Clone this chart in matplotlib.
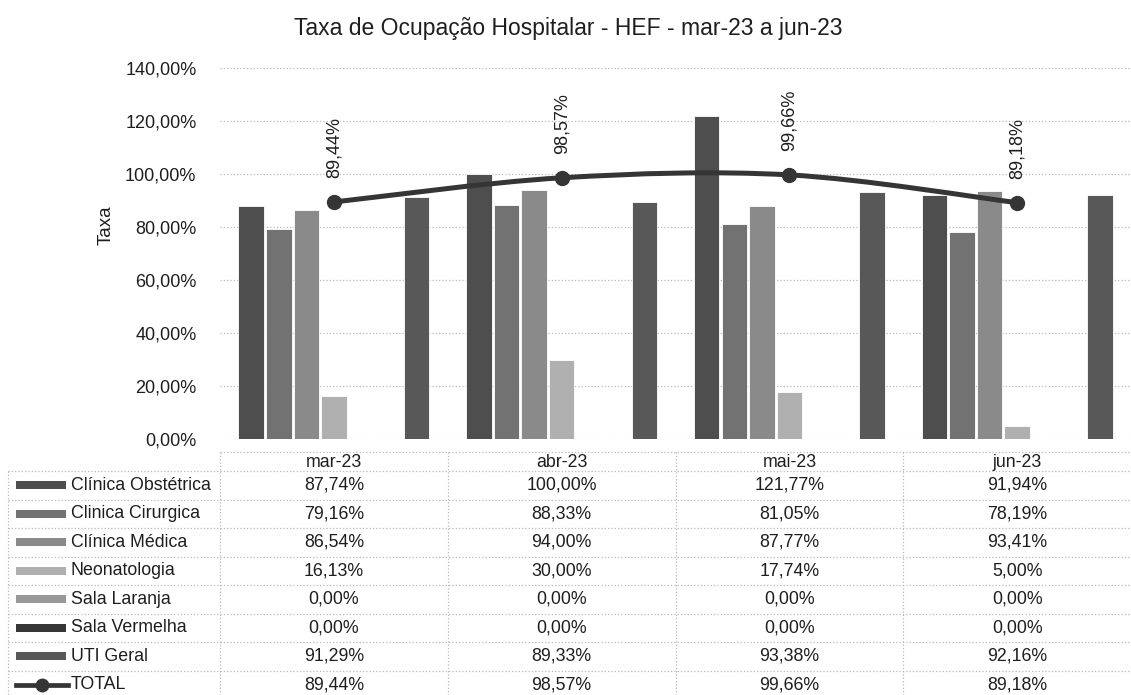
import numpy as np
import matplotlib.pyplot as plt
import matplotlib.transforms as mtransforms
from matplotlib.path import Path
from matplotlib.patches import PathPatch, Rectangle
from matplotlib.lines import Line2D

plt.rcParams['font.family'] = ['Liberation Sans', 'DejaVu Sans']

# ---- data ----
months = ['mar-23', 'abr-23', 'mai-23', 'jun-23']
series_names = ['Clínica Obstétrica', 'Clinica Cirurgica', 'Clínica Médica',
                'Neonatologia', 'Sala Laranja', 'Sala Vermelha', 'UTI Geral']
obstetrica = [87.74, 100.00, 121.77, 91.94]
cirurgica = [79.16, 88.33, 81.05, 78.19]
medica = [86.54, 94.00, 87.77, 93.41]
neonatologia = [16.13, 30.00, 17.74, 5.00]
sala_laranja = [0.00, 0.00, 0.00, 0.00]
sala_vermelha = [0.00, 0.00, 0.00, 0.00]
uti_geral = [91.29, 89.33, 93.38, 92.16]
total = [89.44, 98.57, 99.66, 89.18]

series = [obstetrica, cirurgica, medica, neonatologia, sala_laranja, sala_vermelha, uti_geral]
colors = ['#4e4e4e', '#727272', '#8a8a8a', '#b0b0b0', '#989898', '#363636', '#585858']
line_color = '#353535'
text_color = '#1e1e1e'
grid_color = '#b8b8b8'


def pct(v):
    return f'{v:.2f}%'.replace('.', ',')


W, H = 1131, 695
fig = plt.figure(figsize=(W / 100, H / 100), dpi=100)

ax = fig.add_axes([220 / W, (H - 439) / H, 1 - 220 / W, (439 - 68) / H])
x = np.arange(len(months))
step = 0.121
bw = 0.112
for i, (vals, c) in enumerate(zip(series, colors)):
    ax.bar(x + (i - 3) * step, vals, width=bw, color=c, edgecolor='white',
           linewidth=0.6, zorder=2)

# smoothed total line (Excel style)
pts = np.column_stack([x, total]).astype(float)
ext = np.vstack([pts[0], pts, pts[-1]])
verts = [tuple(pts[0])]
codes = [Path.MOVETO]
for k in range(len(pts) - 1):
    p0, p1, p2, p3 = ext[k], ext[k + 1], ext[k + 2], ext[k + 3]
    c1 = p1 + (p2 - p0) / 6
    c2 = p2 - (p3 - p1) / 6
    verts += [tuple(c1), tuple(c2), tuple(p2)]
    codes += [Path.CURVE4] * 3
ax.add_patch(PathPatch(Path(verts, codes), facecolor='none', edgecolor=line_color,
                       linewidth=3.6, zorder=3, capstyle='round'))
ax.plot(x, total, linestyle='none', marker='o', markersize=10, color=line_color, zorder=4)
for xi, v in zip(x, total):
    ax.annotate(pct(v), (xi, v), xytext=(0, 17), textcoords='offset points',
                rotation=90, ha='center', va='bottom', fontsize=13, color=text_color)

ax.set_xlim(-0.5, 3.5)
ax.set_ylim(0, 140)
ax.set_yticks(np.arange(0, 141, 20))
ax.set_yticklabels([pct(v) for v in np.arange(0, 141, 20)], fontsize=13, color=text_color)
ax.tick_params(axis='y', length=0, pad=17)
ax.set_xticks([])
ax.grid(axis='y', linestyle=':', color=grid_color, linewidth=0.9, zorder=0)
for s in ax.spines.values():
    s.set_visible(False)
fig.text(106 / W, 1 - 225 / H, 'Taxa', rotation=90, ha='center', va='center',
         fontsize=13.5, color=text_color)
fig.text(568 / W, 1 - 29 / H, 'Taxa de Ocupação Hospitalar - HEF - mar-23 a jun-23',
         ha='center', va='center', fontsize=16.5, color=text_color)

# ---- data table ----
tab = fig.add_axes([220 / W, 0, 1 - 220 / W, (H - 452) / H])
tab.set_xlim(-0.5, 3.5)
hdr = 0.67
tab.set_ylim(hdr + 7.86, 0)
tab.axis('off')
bt = mtransforms.blended_transform_factory(tab.transAxes, tab.transData)
left = (8 - 220) / (W - 220)
px = 1 / (W - 220)
nrows = len(series_names) + 1
ls = dict(linestyle=':', color=grid_color, linewidth=0.9)

tab.plot([0, 1], [0, 0], transform=bt, clip_on=False, **ls)
for r in range(nrows + 1):
    tab.plot([left, 1], [hdr + r, hdr + r], transform=bt, clip_on=False, **ls)
tab.plot([left, left], [hdr, hdr + nrows], transform=bt, clip_on=False, **ls)
for b in np.arange(len(months)) - 0.5:
    tab.plot([b, b], [0, hdr + nrows], clip_on=False, **ls)

for xi, m in zip(x, months):
    tab.text(xi, hdr / 2 + 0.05, m, ha='center', va='center', fontsize=12.8, color=text_color)

rows = series + [total]
names = series_names + ['TOTAL']
for r, (name, vals) in enumerate(zip(names, rows)):
    yc = hdr + r + 0.5
    if r < len(series):
        tab.add_patch(Rectangle((left + 8 * px, yc - 0.14), 50 * px, 0.28,
                                transform=bt, facecolor=colors[r], edgecolor='none',
                                clip_on=False))
    else:
        tab.add_line(Line2D([left + 8 * px, left + 60 * px], [yc, yc], transform=bt,
                            color=line_color, linewidth=3.4, clip_on=False))
        tab.add_line(Line2D([left + 34 * px], [yc], transform=bt, marker='o',
                            markersize=9, color=line_color, clip_on=False))
    tab.text(left + 63 * px, yc, name, transform=bt, ha='left', va='center',
             fontsize=12.8, color=text_color)
    for xi, v in zip(x, vals):
        tab.text(xi, yc, pct(v), ha='center', va='center', fontsize=12.8, color=text_color)

fig.savefig('out.png', dpi=100)
